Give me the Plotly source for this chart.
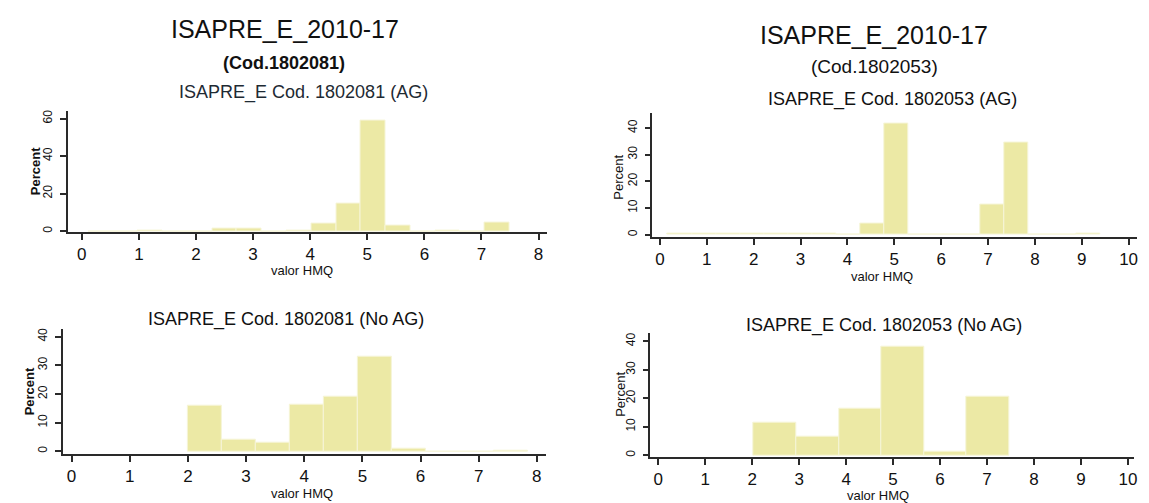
import plotly.graph_objects as go

W, H = 1149, 503

# ---------------- data ----------------
# Panel A: ISAPRE_E Cod. 1802081 (AG)
a_start, a_width = 0.114, 0.434
a_percent = [0, 0, 0.3, 0, 0, 1.4, 1.4, 0, 0.4, 4.2, 14.9, 59.2, 2.8, 0, 0.3, 0, 4.6]

# Panel B: ISAPRE_E Cod. 1802081 (No AG)
b_start, b_width = 2.0, 0.585
b_percent = [16.1, 3.9, 2.9, 16.4, 19.1, 33.0, 0.8, 0, 0, 0.2]

# Panel C: ISAPRE_E Cod. 1802053 (AG)
c_start, c_width = 0.166, 0.513
c_percent = [0.2, 0.3, 0.4, 0.3, 0.5, 0.5, 0.3, 0, 4.2, 41.6, 0, 0, 0, 11.1, 34.4, 0, 0, 0.5]

# Panel D: ISAPRE_E Cod. 1802053 (No AG)
d_start, d_width = 2.03, 0.907
d_percent = [11.5, 6.5, 16.2, 38.2, 1.4, 20.7]

x_ticks_left = [0, 1, 2, 3, 4, 5, 6, 7, 8]
x_ticks_right = [0, 1, 2, 3, 4, 5, 6, 7, 8, 9, 10]
y_ticks_a = [0, 20, 40, 60]
y_ticks_10 = [0, 10, 20, 30, 40]

main_title = "ISAPRE_E_2010-17"
sub_left = "(Cod.1802081)"
sub_right = "(Cod.1802053)"
titles = ["ISAPRE_E Cod. 1802081 (AG)", "ISAPRE_E Cod. 1802081 (No AG)",
          "ISAPRE_E Cod. 1802053 (AG)", "ISAPRE_E Cod. 1802053 (No AG)"]
x_label = "valor HMQ"
y_label = "Percent"

# ---------------- style ----------------
FONT = "Liberation Sans, Arial, sans-serif"
BAR = "#ECE9A5"
BAR_EDGE = "#F6F5D8"
AX = "#2a2a2a"


def xd(a, b):
    return [a / W, b / W]


def yd(top, bottom):
    return [1 - bottom / H, 1 - top / H]


panels = [
    dict(start=a_start, width=a_width, pct=a_percent, xa="x", ya="y",
         xdom=xd(67.7, 548), xr=[-0.25, 8.14], xt=x_ticks_left,
         ydom=yd(110, 232), yr=[-0.5, 64.3], yt=y_ticks_a),
    dict(start=b_start, width=b_width, pct=b_percent, xa="x2", ya="y2",
         xdom=xd(63, 547), xr=[-0.15, 8.15], xt=x_ticks_left,
         ydom=yd(329, 455), yr=[-1.0, 42.8], yt=y_ticks_10),
    dict(start=c_start, width=c_width, pct=c_percent, xa="x3", ya="y3",
         xdom=xd(654, 1140), xr=[-0.164, 10.18], xt=x_ticks_right,
         ydom=yd(112, 237), yr=[-0.93, 45.8], yt=y_ticks_10),
    dict(start=d_start, width=d_width, pct=d_percent, xa="x4", ya="y4",
         xdom=xd(652, 1137), xr=[-0.17, 10.13], xt=x_ticks_right,
         ydom=yd(333, 458), yr=[-0.7, 43.05], yt=y_ticks_10),
]

fig = go.Figure()
layout = {}
for i, p in enumerate(panels):
    n = len(p["pct"])
    centers = [p["start"] + p["width"] * (k + 0.5) for k in range(n)]
    fig.add_trace(go.Bar(
        x=centers, y=p["pct"], width=[p["width"]] * n,
        marker=dict(color=BAR, line=dict(color=BAR_EDGE, width=1)),
        xaxis=p["xa"], yaxis=p["ya"], showlegend=False, hoverinfo="x+y",
    ))
    suffix = "" if i == 0 else str(i + 1)
    layout["xaxis" + suffix] = dict(
        domain=p["xdom"], range=p["xr"], anchor=p["ya"],
        tickvals=p["xt"], ticks="outside", ticklen=6, tickwidth=1.5,
        tickcolor=AX, showline=True, linecolor=AX, linewidth=1.5,
        showgrid=False, zeroline=False,
        tickfont=dict(family=FONT, size=17, color="#111"),
        ticklabelstandoff=0,
    )
    layout["yaxis" + suffix] = dict(
        domain=p["ydom"], range=p["yr"], anchor=p["xa"],
        tickvals=p["yt"], ticks="outside", ticklen=6, tickwidth=1.5,
        tickcolor=AX, showline=True, linecolor=AX, linewidth=1.5,
        showgrid=False, zeroline=False, tickangle=-90,
        tickfont=dict(family=FONT, size=12, color="#111"),
        ticklabelstandoff=3,
    )

ann = []


def txt(text, x, y, size, bold=False, angle=0, color="#111"):
    t = "<b>" + text + "</b>" if bold else text
    ann.append(dict(text=t, x=x / W, y=1 - y / H, xref="paper", yref="paper",
                    showarrow=False, xanchor="center", yanchor="middle",
                    textangle=angle,
                    font=dict(family=FONT, size=size, color=color)))


# main titles
txt(main_title, 286, 28, 25)
txt(sub_left, 285, 62, 18, bold=True)
txt(main_title, 876, 34, 25)
txt(sub_right, 877, 66, 19)

# panel titles
txt(titles[0], 304, 92, 18, color="#1e2a33")
txt(titles[1], 287, 320, 18)
txt(titles[2], 895, 99, 18)
txt(titles[3], 886, 326, 18)

# x labels
txt(x_label, 303, 271, 13)
txt(x_label, 303, 494, 13)
txt(x_label, 884, 277, 13)
txt(x_label, 880, 496, 13)

# y labels
txt(y_label, 35, 171, 13, bold=True, angle=-90)
txt(y_label, 30, 392, 13, bold=True, angle=-90)
txt(y_label, 620, 177, 13, angle=-90)
txt(y_label, 622, 395, 13, angle=-90)

fig.update_layout(
    width=W, height=H, autosize=False,
    margin=dict(l=0, r=0, t=0, b=0),
    paper_bgcolor="white", plot_bgcolor="white",
    bargap=0, annotations=ann, **layout,
)

fig.write_html("out.html", config={"displayModeBar": False})
